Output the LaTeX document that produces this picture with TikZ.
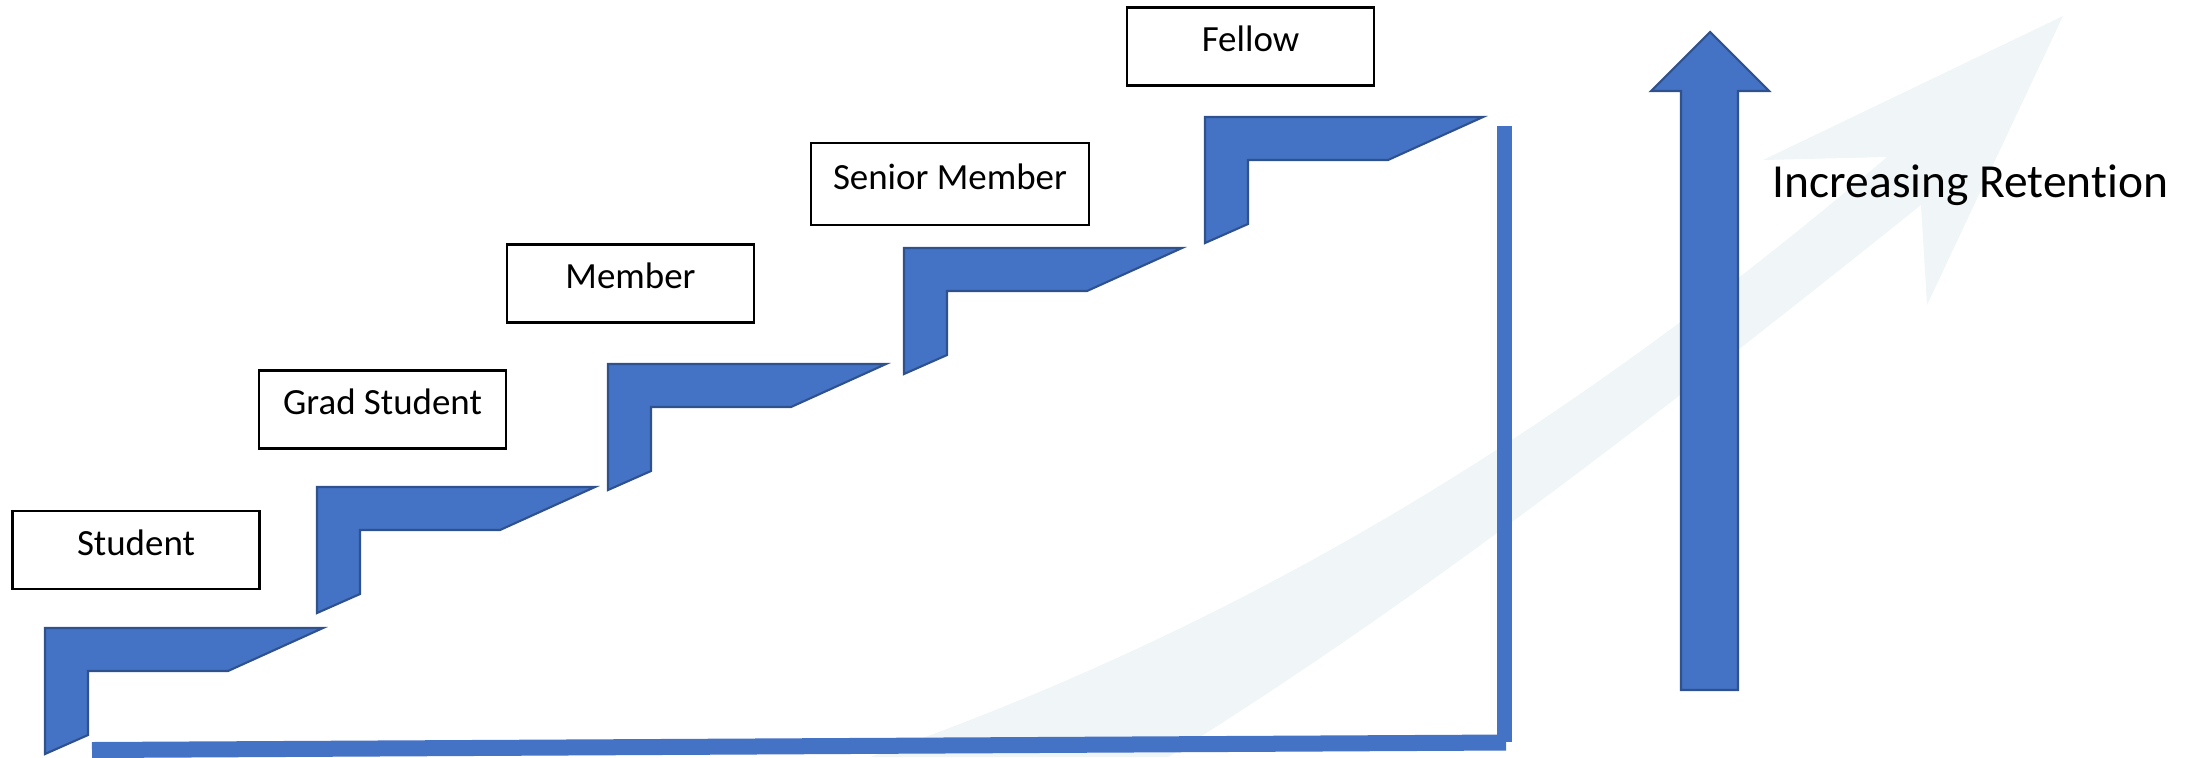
\documentclass[tikz,border=0pt]{standalone}
\usepackage{fontspec}
\setmainfont{Carlito}[Ligatures={NoCommon,NoContextual}]
\usepackage{tikz}
\usetikzlibrary{calc}
\usetikzlibrary{positioning}
\definecolor{office-blue}{RGB}{68,114,196}
\definecolor{office-edge}{RGB}{47,82,143}
\definecolor{swoosh-gray}{RGB}{240,245,248}

\begin{document}
\begin{tikzpicture}
  [
    x=0.01cm, y=-0.01cm,
    stair/.style = {fill=office-blue, draw=office-edge, line width=0.6pt, line join=miter},
    rank/.style = {draw, fill=white, line width=0.7pt, inner sep=0pt,
                   font=\fontsize{10.5}{12}\selectfont,
                   text height=0.24cm, text depth=0.14cm,
                   minimum width=2.47cm, minimum height=0.78cm},
    rail/.style = {draw=office-blue}
  ]
% Frame (pixel grid, y down)
\useasboundingbox (0,0) rectangle (2201,757);

% ---------------------------------------------------
% Background swoosh
\fill[swoosh-gray] (870,757)
  .. controls (1270,617) and (1587,412) .. (1887,157)
  -- (1763,160) -- (2063,16) -- (1927,305) -- (1921,205)
  .. controls (1671,405) and (1418,602) .. (1168,757)
  -- cycle;

% ---------------------------------------------------
% Stairs
\foreach \sx/\sy in {45/628, 317/487, 608/364, 904/248, 1205/117}
  \filldraw[stair] (\sx,\sy) -- ++(278,0) -- ++(-95,43) -- ++(-140,0)
                   -- ++(0,64) -- ++(-43,19) -- cycle;

% Floor and wall
\coordinate[] (floor0) at (92,750);
\coordinate[] (floor1) at (1506,742.5);
\coordinate[] (wall0)  at (1504.5,742);
\coordinate[] (wall1)  at (1504.5,126);
\draw[rail, line width=0.16cm] (floor0) -- (floor1);
\draw[rail, line width=0.15cm] (wall0) -- (wall1);

% ---------------------------------------------------
% Ranks
\node[rank] (student) at (136,550)     {Student};
\node[rank] (grad)    at (382.5,409.5) {Grad Student};
\node[rank] (member)  at (630.5,283.5) {Member};
\node[rank, minimum width=2.78cm, minimum height=0.82cm] (senior) at (950,184) {Senior Member};
\node[rank] (fellow)  at (1250.5,46.5) {Fellow};

% Retention arrow
\filldraw[stair] (1681,690) -- (1681,91) -- (1651,91) -- (1710,32)
                 -- (1769,91) -- (1738,91) -- (1738,690) -- cycle;
\node[anchor=base west, inner sep=0pt, font=\fontsize{13.5}{16}\selectfont]
  (retention) at (1772,197) {Increasing Retention};
% ---------------------------------------------------
\end{tikzpicture}
\end{document}
